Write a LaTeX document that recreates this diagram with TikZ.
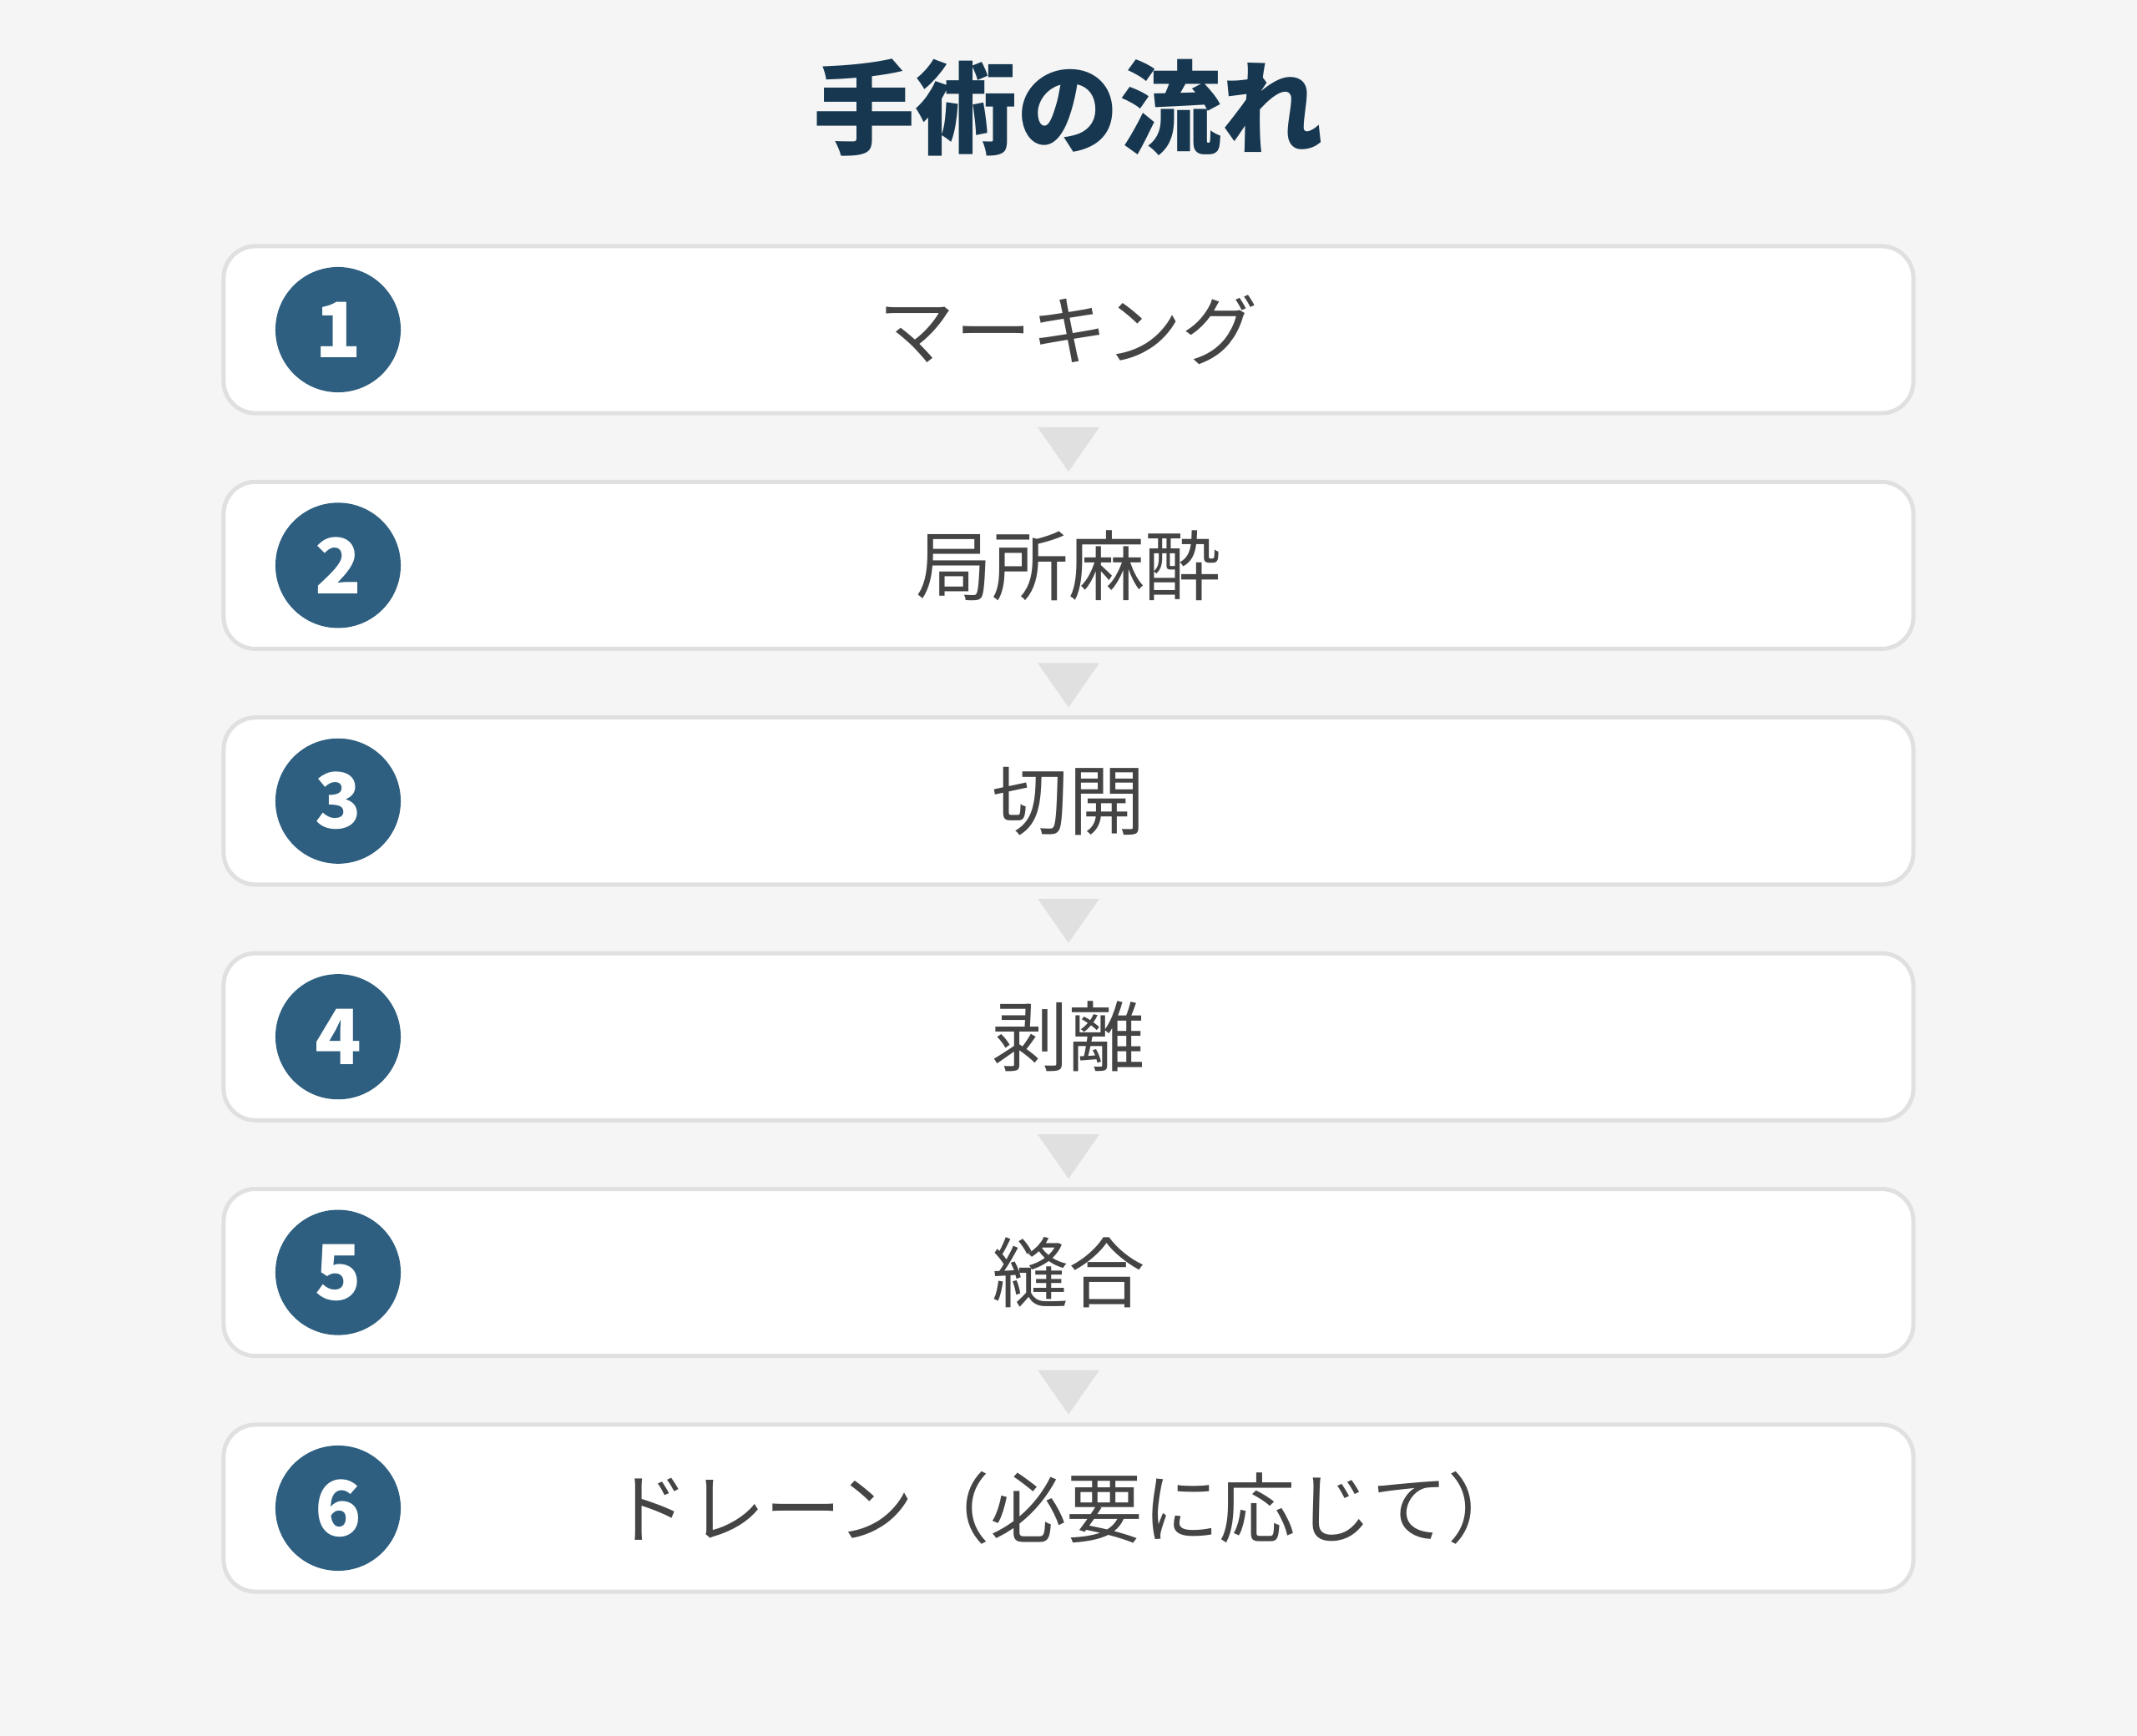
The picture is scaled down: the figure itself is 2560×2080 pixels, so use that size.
\documentclass[tikz,border=0pt]{standalone}
\usepackage{fontspec}
\setmainfont{Noto Sans CJK JP}
\definecolor{bg}{HTML}{F5F5F5}
\definecolor{boxline}{HTML}{E0E0E0}
\definecolor{numblue}{HTML}{2E5F80}
\definecolor{titleblue}{HTML}{16374F}
\definecolor{labelgray}{HTML}{444444}
\begin{document}
\begin{tikzpicture}[x=.01cm,y=-.01cm,
    stepbox/.style={draw=boxline,line width=.05cm,fill=white,rounded corners=.38cm,minimum width=20.23cm,minimum height=2.0cm},
    num/.style={circle,fill=numblue,text=white,minimum size=1.5cm,inner sep=0pt,font=\fontsize{26}{26}\selectfont\bfseries},
    lbl/.style={text=labelgray,font=\fontsize{26}{30}\selectfont}]
            \fill[bg] (0,0) rectangle (2560,2080);
            \node[text=titleblue,font=\fontsize{34.7}{40}\selectfont\bfseries] at (1280,129)(title){手術の流れ};
            \foreach \txt [count=\i] in {マーキング,局所麻酔,切開,剥離,縫合,ドレーン（必要に応じて）}{
                \node[stepbox] at (1280,{395+(\i-1)*282.4})(box\i){};
                \node[num] at (405,{395+(\i-1)*282.4})(num\i){\i};
                \node[lbl] at (1280,{395+(\i-1)*282.4})(lbl\i){\txt};
            }
            %\draw[dashed] (266,294) rectangle (2294,1909);
            \foreach \i in {1,...,5}{
                \fill[boxline] (1243,{512+(\i-1)*282.4}) -- (1317,{512+(\i-1)*282.4}) -- (1280,{565+(\i-1)*282.4}) -- cycle;
            }
        \end{tikzpicture}
\end{document}
